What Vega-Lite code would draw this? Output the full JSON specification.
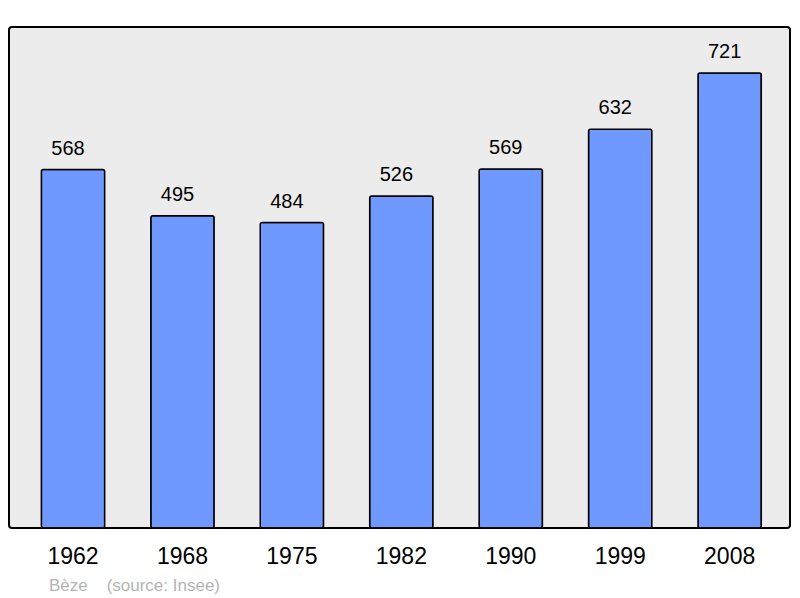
{
  "$schema": "https://vega.github.io/schema/vega-lite/v6.json",
  "width": 781,
  "height": 501,
  "autosize": {"type": "none"},
  "padding": {"left": 9, "top": 27, "right": 10, "bottom": 70},
  "background": "white",
  "config": {
    "view": {"fill": "#ececec", "stroke": "#000000", "strokeWidth": 2, "cornerRadius": 3},
    "font": "Liberation Sans"
  },
  "title": {
    "text": "Bèze\u00a0\u00a0\u00a0\u00a0(source: Insee)",
    "orient": "bottom",
    "anchor": "start",
    "dx": 40,
    "offset": 10,
    "fontSize": 17,
    "fontWeight": "normal",
    "color": "#b4b4b4",
    "font": "Liberation Sans"
  },
  "data": {
    "values": [
      {"year": "1962", "pop": 568},
      {"year": "1968", "pop": 495},
      {"year": "1975", "pop": 484},
      {"year": "1982", "pop": 526},
      {"year": "1990", "pop": 569},
      {"year": "1999", "pop": 632},
      {"year": "2008", "pop": 721}
    ]
  },
  "encoding": {
    "x": {
      "field": "year",
      "type": "ordinal",
      "sort": null,
      "scale": {"paddingInner": 0.4215, "paddingOuter": 0.279, "align": 0.53},
      "axis": {
        "title": null,
        "domain": false,
        "ticks": false,
        "labelAngle": 0,
        "labelFontSize": 23,
        "labelColor": "#000000",
        "labelPadding": 17,
        "labelFont": "Liberation Sans"
      }
    },
    "y": {
      "field": "pop",
      "type": "quantitative",
      "scale": {"domain": [0, 794], "nice": false, "zero": true},
      "axis": null
    }
  },
  "layer": [
    {
      "mark": {"type": "bar", "fill": "#7099ff", "stroke": "#000000", "strokeWidth": 1.5, "cornerRadius": 2}
    },
    {
      "mark": {"type": "text", "baseline": "middle", "dy": -21, "dx": -5, "fontSize": 20, "color": "#000000", "font": "Liberation Sans"},
      "encoding": {"text": {"field": "pop", "type": "quantitative"}}
    }
  ]
}
